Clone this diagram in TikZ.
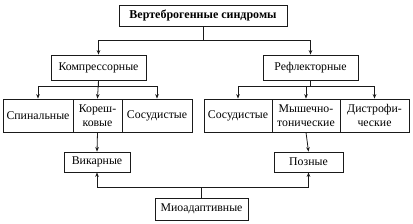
\documentclass[tikz,border=0pt]{standalone}
\usepackage{fontspec}
\setmainfont{Liberation Serif}
\usetikzlibrary{positioning,arrows.meta}
\definecolor{negro}{HTML}{1A1A1A}

\begin{document}
\begin{tikzpicture}[x=1pt, y=-1pt, font=\fontsize{11.8}{14}\selectfont,
    caja/.style={draw=negro, line width=0.8pt, inner sep=0pt, align=center,
                 minimum height=#1},
    caja/.default=25pt,
    flecha/.style={draw=negro, line width=0.8pt, -{Stealth[length=4.5pt, width=3.6pt]}}]
        \useasboundingbox (0,0) rectangle (413,224);
        % nivel superior
        \node[caja=21pt, minimum width=168pt, font=\fontsize{12}{14}\selectfont\bfseries]
          (vert) at (203,15.5) {Вертеброгенные синдромы};
        \node[caja, minimum width=95pt] (komp) at (98.5,67.5) {Компрессорные};
        \node[caja, minimum width=95pt] (refl) at (310.5,67.5) {Рефлекторные};
        % grupo izquierdo
        \node[caja=33pt, minimum width=70pt] (spin) at (38,115.5) {Спинальные};
        \node[caja=33pt, minimum width=49pt] (kore) at (97.5,115.5) {Кореш-\\ковые};
        \node[caja=33pt, minimum width=70pt] (sosi) at (157,115.5) {Сосудистые};
        % grupo derecho
        \node[caja=33pt, minimum width=68pt] (sosd) at (238,115.5) {Сосудистые};
        \node[caja=33pt, minimum width=68pt] (mysh) at (306,115.5) {Мышечно-\\тонические};
        \node[caja=33pt, minimum width=69pt] (dist) at (374.5,115.5) {Дистрофи-\\ческие};
        % nivel inferior
        \node[caja=20pt, minimum width=66pt] (vika) at (97,162) {Викарные};
        \node[caja=20pt, minimum width=69pt] (pozn) at (308.5,162) {Позные};
        \node[caja=22pt, minimum width=93pt] (mioa) at (201.5,209) {Миоадаптивные};
        % conectores
        \draw[flecha] (vert.south) -- ++(0,14) -| (komp.north);
        \draw[flecha] (vert.south) -- ++(0,14) -| (refl.north);
        \draw[flecha] (komp.south) -- ++(0,6) -| (spin.north);
        \draw[flecha] (komp.south) -- (kore.north);
        \draw[flecha] (komp.south) -- ++(0,6) -| (sosi.north);
        \draw[flecha] (refl.south) -- ++(0,6) -| (sosd.north);
        \draw[flecha] (refl.south) -- ++(0,6) -| (mysh.north);
        \draw[flecha] (refl.south) -- ++(0,6) -| (dist.north);
        \draw[flecha] (kore.south) -- (vika.north);
        \draw[flecha] (mysh.south) -- (pozn.north);
        \draw[flecha] (mioa.north) -- ++(0,-10) -| (vika.south);
        \draw[flecha] (mioa.north) -- ++(0,-10) -| (pozn.south);
      \end{tikzpicture}
\end{document}
